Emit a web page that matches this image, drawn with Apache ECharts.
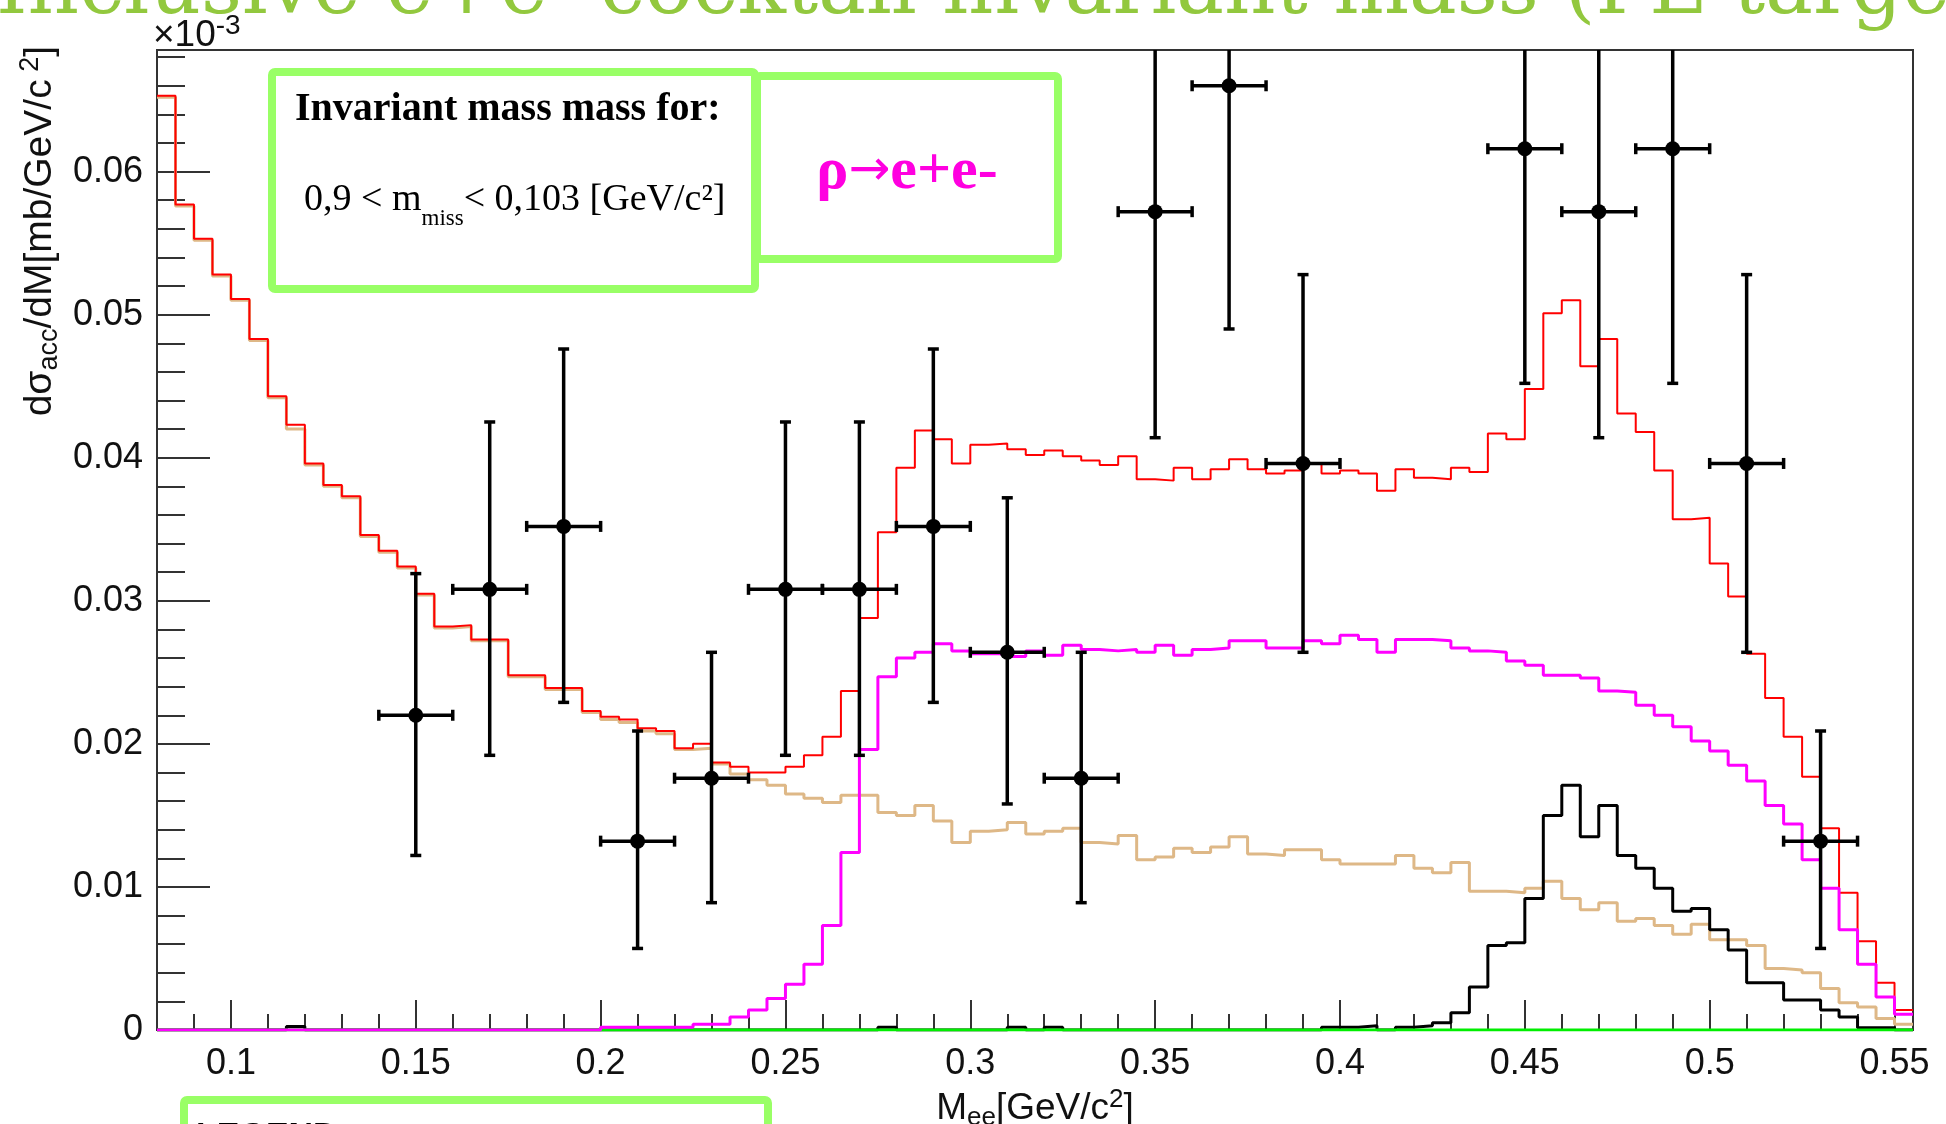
<!DOCTYPE html>
<html>
<head>
<meta charset="utf-8">
<title>e+e- cocktail invariant mass</title>
<script src="https://cdn.jsdelivr.net/npm/echarts@6.0.0/dist/echarts.min.js"></script>
<style>
  html, body { margin: 0; padding: 0; background: #fff; }
  #chart { width: 1946px; height: 1124px; }
</style>
</head>
<body>
<div id="chart"></div>
<script>
// histogram binning: 95 bins of 0.005 GeV/c2 from 0.08 to 0.555
const X_MIN = 0.08
const X_MAX = 0.555
const BIN_W = 0.005
const N_BINS = 95
const binEdges = Array.from({length: N_BINS + 1}, (_, i) => +(X_MIN + i * BIN_W).toFixed(3))

// axis ticks / labels
const xMajorTicks = [0.1, 0.15, 0.2, 0.25, 0.3, 0.35, 0.4, 0.45, 0.5, 0.55]
const xMinorTicks = [0.09, 0.11, 0.12, 0.13, 0.14, 0.16, 0.17, 0.18, 0.19, 0.21, 0.22, 0.23, 0.24,
  0.26, 0.27, 0.28, 0.29, 0.31, 0.32, 0.33, 0.34, 0.36, 0.37, 0.38, 0.39, 0.41, 0.42, 0.43, 0.44,
  0.46, 0.47, 0.48, 0.49, 0.51, 0.52, 0.53, 0.54]
const yMajorTicks = [0, 0.01, 0.02, 0.03, 0.04, 0.05, 0.06]
const yMinorTicks = [0.002, 0.004, 0.006, 0.008, 0.012, 0.014, 0.016, 0.018, 0.022, 0.024, 0.026, 0.028,
  0.032, 0.034, 0.036, 0.038, 0.042, 0.044, 0.046, 0.048, 0.052, 0.054, 0.056, 0.058,
  0.062, 0.064, 0.066, 0.068]

// cocktail sum (red)
const totalCocktail = [
  0.0653, 0.0577, 0.0553, 0.0528, 0.0511, 0.0483, 0.0443, 0.0423, 0.0396, 0.0381,
  0.0373, 0.0346, 0.0335, 0.0324, 0.0305, 0.0282, 0.0283, 0.0273, 0.0273, 0.0248,
  0.0248, 0.0239, 0.0239, 0.0223, 0.0219, 0.0217, 0.0211, 0.0209, 0.0197, 0.0200,
  0.0187, 0.0184, 0.0180, 0.0180, 0.0184, 0.0192, 0.0205, 0.0237, 0.0288, 0.0348,
  0.0393, 0.0419, 0.0413, 0.0396, 0.0409, 0.0410, 0.0406, 0.0402, 0.0405, 0.0401,
  0.0398, 0.0395, 0.0401, 0.0385, 0.0384, 0.0393, 0.0385, 0.0392, 0.0399, 0.0392,
  0.0389, 0.0391, 0.0396, 0.0389, 0.0391, 0.0389, 0.0377, 0.0392, 0.0386, 0.0385,
  0.0393, 0.0390, 0.0417, 0.0413, 0.0448, 0.0501, 0.0510, 0.0464, 0.0483, 0.0431,
  0.0418, 0.0391, 0.0357, 0.0358, 0.0326, 0.0303, 0.0263, 0.0232, 0.0205, 0.0177,
  0.0141, 0.0096, 0.0062, 0.0033, 0.0014
]
// tan component
const tanComponent = [
  0.0652, 0.0576, 0.0552, 0.0527, 0.0510, 0.0482, 0.0442, 0.0420, 0.0395, 0.0380,
  0.0372, 0.0345, 0.0334, 0.0323, 0.0304, 0.0281, 0.0282, 0.0272, 0.0272, 0.0247,
  0.0247, 0.0238, 0.0238, 0.0222, 0.0217, 0.0215, 0.0209, 0.0207, 0.0196, 0.0197,
  0.0186, 0.0179, 0.0175, 0.0171, 0.0165, 0.0162, 0.0159, 0.0164, 0.0164, 0.0152,
  0.0150, 0.0157, 0.0146, 0.0131, 0.0139, 0.0140, 0.0145, 0.0137, 0.0139, 0.0141,
  0.0131, 0.0130, 0.0136, 0.0119, 0.0121, 0.0127, 0.0124, 0.0128, 0.0135, 0.0123,
  0.0122, 0.0126, 0.0126, 0.0119, 0.0116, 0.0116, 0.0116, 0.0122, 0.0113, 0.0110,
  0.0117, 0.0097, 0.0097, 0.0096, 0.0099, 0.0104, 0.0092, 0.0084, 0.0089, 0.0076,
  0.0078, 0.0073, 0.0067, 0.0074, 0.0063, 0.0063, 0.0059, 0.0043, 0.0042, 0.0040,
  0.0029, 0.0019, 0.0016, 0.0008, 0.0004
]
// rho -> e+e- (magenta)
const rhoComponent = [
  0, 0, 0, 0, 0, 0, 0, 0, 0, 0,
  0, 0, 0, 0, 0, 0, 0, 0, 0, 0,
  0, 0, 0, 0, 0.0002, 0.0002, 0.0002, 0.0002, 0.0002, 0.0004,
  0.0004, 0.0009, 0.0014, 0.0022, 0.0032, 0.0046, 0.0073, 0.0124, 0.0196, 0.0247,
  0.0260, 0.0264, 0.0270, 0.0265, 0.0263, 0.0263, 0.0261, 0.0265, 0.0262, 0.0269,
  0.0266, 0.0265, 0.0266, 0.0264, 0.0269, 0.0262, 0.0266, 0.0267, 0.0272, 0.0272,
  0.0267, 0.0267, 0.0272, 0.0270, 0.0276, 0.0273, 0.0264, 0.0273, 0.0273, 0.0272,
  0.0267, 0.0265, 0.0264, 0.0258, 0.0255, 0.0248, 0.0248, 0.0246, 0.0237, 0.0236,
  0.0227, 0.0220, 0.0212, 0.0202, 0.0195, 0.0185, 0.0174, 0.0157, 0.0144, 0.0119,
  0.0099, 0.0070, 0.0046, 0.0023, 0.0011
]
// black component
const blackComponent = [
  0, 0, 0, 0, 0, 0, 0, 0.00025, 0, 0,
  0, 0, 0, 0, 0, 0, 0, 0, 0, 0,
  0, 0, 0, 0, 0, 0, 0, 0, 0, 0,
  0, 0, 0, 0, 0, 0, 0, 0, 0, 0.0002,
  0, 0, 0, 0, 0, 0, 0.0002, 0, 0.0002, 0,
  0, 0, 0, 0, 0, 0, 0, 0, 0, 0,
  0, 0, 0, 0.0002, 0.0002, 0.0003, 0, 0.0002, 0.0003, 0.0005,
  0.0012, 0.0030, 0.0059, 0.0061, 0.0092, 0.0150, 0.0171, 0.0135, 0.0157, 0.0122,
  0.0113, 0.0099, 0.0083, 0.0085, 0.0070, 0.0056, 0.0033, 0.0033, 0.0021, 0.0021,
  0.0014, 0.0009, 0.00015, 0.00015, 0
]
// green component: zero everywhere
const greenComponent = new Array(N_BINS).fill(0)

// measured points (bin centre, value, error bar low / high), x error = half bin 0.01
const DATA_HALF_WIDTH = 0.01
const dataX = [0.15, 0.17, 0.19, 0.21, 0.23, 0.25, 0.27, 0.29, 0.31, 0.33, 0.35, 0.37, 0.39, 0.45, 0.47, 0.49, 0.51, 0.53]
const dataY = [0.0220, 0.0308, 0.0352, 0.0132, 0.0176, 0.0308, 0.0308, 0.0352, 0.0264, 0.0176, 0.0572, 0.0660, 0.0396, 0.0616, 0.0572, 0.0616, 0.0396, 0.0132]
const dataLow = [0.0122, 0.0192, 0.0229, 0.0057, 0.0089, 0.0192, 0.0192, 0.0229, 0.0158, 0.0089, 0.0414, 0.0490, 0.0264, 0.0452, 0.0414, 0.0452, 0.0264, 0.0057]
const dataHigh = [0.0319, 0.0425, 0.0476, 0.0209, 0.0264, 0.0425, 0.0425, 0.0476, 0.0372, 0.0264, 0.0731, 0.0830, 0.0528, 0.0780, 0.0731, 0.0780, 0.0528, 0.0209]

const FRAME = '#333'
const BOX_GREEN = '#99ff66'
const SANS = '"Liberation Sans", Arial, sans-serif'
const SERIF = '"Liberation Serif", "Times New Roman", serif'

// step outline of a histogram
function histPoints(vals) {
  const pts = vals.map((v, i) => [binEdges[i], v])
  pts.push([binEdges[vals.length], vals[vals.length - 1]])
  return pts
}

function histSeries(name, vals, color, width, z) {
  return {
    name: name,
    type: 'line',
    step: 'end',
    data: histPoints(vals),
    symbol: 'none',
    lineStyle: {color: color, width: width},
    z: z,
    silent: true,
    clip: true
  }
}

const chart = echarts.init(document.getElementById('chart'), null, {renderer: 'canvas'})

const option = {
  backgroundColor: '#fff',
  animation: false,
  grid: {
    left: 157, right: 33, top: 50, bottom: 94,
    show: true, borderColor: FRAME, borderWidth: 2,
    containLabel: false, outerBoundsMode: 'none'
  },
  xAxis: [
    {
      type: 'value', min: X_MIN, max: X_MAX, position: 'bottom',
      axisLine: {show: true, onZero: false, lineStyle: {color: FRAME, width: 2}},
      axisTick: {show: true, inside: true, length: 30, customValues: xMajorTicks, lineStyle: {color: FRAME, width: 2}},
      axisLabel: {show: true, customValues: xMajorTicks, margin: 16, fontSize: 36, fontFamily: SANS, color: '#111'},
      splitLine: {show: false},
      name: '{m|M}{s|ee}{m|[GeV/c}{p|2}{m|]}',
      nameLocation: 'middle',
      nameGap: 50,
      nameTextStyle: {
        rich: {
          m: {fontSize: 37, fontFamily: SANS, color: '#111', lineHeight: 44},
          s: {fontSize: 26, fontFamily: SANS, color: '#111', lineHeight: 26, verticalAlign: 'bottom'},
          p: {fontSize: 26, fontFamily: SANS, color: '#111', lineHeight: 10, verticalAlign: 'top'}
        }
      }
    },
    {
      type: 'value', min: X_MIN, max: X_MAX, position: 'bottom',
      axisLine: {show: false, onZero: false},
      axisTick: {show: true, inside: true, length: 16, customValues: xMinorTicks, lineStyle: {color: FRAME, width: 2}},
      axisLabel: {show: false},
      splitLine: {show: false}
    }
  ],
  yAxis: [
    {
      type: 'value', min: 0, max: 0.0685, position: 'left',
      axisLine: {show: true, onZero: false, lineStyle: {color: FRAME, width: 2}},
      axisTick: {show: true, inside: true, length: 53, customValues: yMajorTicks, lineStyle: {color: FRAME, width: 2}},
      axisLabel: {show: true, customValues: yMajorTicks, margin: 14, fontSize: 36, fontFamily: SANS, color: '#111'},
      splitLine: {show: false}
    },
    {
      type: 'value', min: 0, max: 0.0685, position: 'left', offset: 0,
      axisLine: {show: false, onZero: false},
      axisTick: {show: true, inside: true, length: 28, customValues: yMinorTicks, lineStyle: {color: FRAME, width: 2}},
      axisLabel: {show: false},
      splitLine: {show: false}
    }
  ],
  series: [
    histSeries('tan', tanComponent, '#deb887', 3, 2),
    histSeries('total', totalCocktail, '#ff0000', 2, 3),
    histSeries('black', blackComponent, '#000000', 3, 4),
    histSeries('green', greenComponent, '#00ee00', 3, 5),
    histSeries('rho', rhoComponent, '#ff00ff', 3, 6),
    {
      name: 'data',
      type: 'custom',
      clip: true,
      z: 10,
      silent: true,
      data: dataX.map((x, i) => [x, dataY[i], dataLow[i], dataHigh[i]]),
      renderItem: function (params, api) {
        const x = api.value(0)
        const y = api.value(1)
        const c = api.coord([x, y])
        const top = api.coord([x, api.value(3)])
        const bot = api.coord([x, api.value(2)])
        const left = api.coord([x - DATA_HALF_WIDTH, y])
        const right = api.coord([x + DATA_HALF_WIDTH, y])
        const st = {stroke: '#000', lineWidth: 3.5}
        const cap = 5.5
        return {
          type: 'group',
          children: [
            {type: 'line', shape: {x1: c[0], y1: top[1], x2: c[0], y2: bot[1]}, style: st},
            {type: 'line', shape: {x1: left[0], y1: c[1], x2: right[0], y2: c[1]}, style: st},
            {type: 'line', shape: {x1: c[0] - cap, y1: top[1], x2: c[0] + cap, y2: top[1]}, style: st},
            {type: 'line', shape: {x1: c[0] - cap, y1: bot[1], x2: c[0] + cap, y2: bot[1]}, style: st},
            {type: 'line', shape: {x1: left[0], y1: c[1] - cap, x2: left[0], y2: c[1] + cap}, style: st},
            {type: 'line', shape: {x1: right[0], y1: c[1] - cap, x2: right[0], y2: c[1] + cap}, style: st},
            {type: 'circle', shape: {cx: c[0], cy: c[1], r: 7.5}, style: {fill: '#000'}}
          ]
        }
      }
    }
  ],
  graphic: [
    // slide title, cut by the top edge
    {
      type: 'text', x: -4, y: 32, silent: true,
      style: {
        text: 'Inclusive e+e- cocktail invariant mass (PE target)',
        font: '80px "DejaVu Serif", serif', fill: '#92c83e',
        align: 'left', verticalAlign: 'bottom', textAlign: 'left', textVerticalAlign: 'bottom'
      }
    },
    // x10^-3
    {
      type: 'text', x: 153, y: 12, silent: true,
      style: {
        text: '{a|×10}{b|-3}',
        rich: {
          a: {fontSize: 37, fontFamily: SANS, fill: '#111', lineHeight: 42, verticalAlign: 'bottom'},
          b: {fontSize: 28, fontFamily: SANS, fill: '#111', lineHeight: 24, verticalAlign: 'top'}
        },
        align: 'left', verticalAlign: 'top'
      }
    },
    // y axis title, rotated
    {
      type: 'text', x: 63, y: 46, rotation: Math.PI / 2, silent: true,
      style: {
        text: '{a|dσ}{s|acc}{a|/dM[mb/GeV/c}{p| 2}{a|]}',
        rich: {
          a: {fontSize: 39, fontFamily: SANS, fill: '#111', lineHeight: 46},
          s: {fontSize: 27, fontFamily: SANS, fill: '#111', lineHeight: 28, verticalAlign: 'bottom'},
          p: {fontSize: 27, fontFamily: SANS, fill: '#111', lineHeight: 8, verticalAlign: 'top'}
        },
        align: 'right', verticalAlign: 'bottom', textAlign: 'right', textVerticalAlign: 'bottom'
      }
    },
    // annotation boxes
    {
      type: 'rect', silent: true, z: 20,
      shape: {x: 272, y: 72, width: 483, height: 217, r: 3},
      style: {fill: 'none', stroke: BOX_GREEN, lineWidth: 8}
    },
    {
      type: 'rect', silent: true, z: 20,
      shape: {x: 757, y: 76, width: 301, height: 183, r: 3},
      style: {fill: 'none', stroke: BOX_GREEN, lineWidth: 8}
    },
    {
      type: 'text', x: 295, y: 130, silent: true, z: 21,
      style: {
        text: 'Invariant mass mass for:',
        font: 'bold 40px ' + SERIF, fill: '#000',
        align: 'left', verticalAlign: 'bottom', textAlign: 'left', textVerticalAlign: 'bottom'
      }
    },
    {
      type: 'text', x: 304, y: 170, silent: true, z: 21,
      style: {
        text: '{n|0,9 < m}{s|miss}{n|< 0,103 [GeV/c²]}',
        rich: {
          n: {fontSize: 38, fontFamily: SERIF, fill: '#000', lineHeight: 60},
          s: {fontSize: 23, fontFamily: SERIF, fill: '#000', lineHeight: 21, verticalAlign: 'bottom'}
        },
        align: 'left', verticalAlign: 'top'
      }
    },
    {
      type: 'text', x: 907, y: 172, silent: true, z: 21,
      style: {
        text: '{r|ρ}{a|→}{r|e+e-}',
        rich: {
          r: {fontSize: 60, fontFamily: SERIF, fontWeight: 'bold', fill: '#ff00e0', lineHeight: 70},
          a: {fontSize: 50, fontFamily: '"DejaVu Sans", sans-serif', fill: '#ff00e0', lineHeight: 70}
        },
        align: 'center', verticalAlign: 'middle'
      }
    },
    // legend box, cut by the bottom edge
    {
      type: 'rect', silent: true,
      shape: {x: 184, y: 1100, width: 584, height: 80, r: 3},
      style: {fill: 'none', stroke: BOX_GREEN, lineWidth: 8}
    },
    {
      type: 'text', x: 196, y: 1120, silent: true,
      style: {
        text: 'LEGEND', font: 'bold 34px ' + SANS, fill: '#000',
        align: 'left', verticalAlign: 'top', textAlign: 'left', textVerticalAlign: 'top'
      }
    }
  ]
}

chart.setOption(option)
</script>
</body>
</html>
